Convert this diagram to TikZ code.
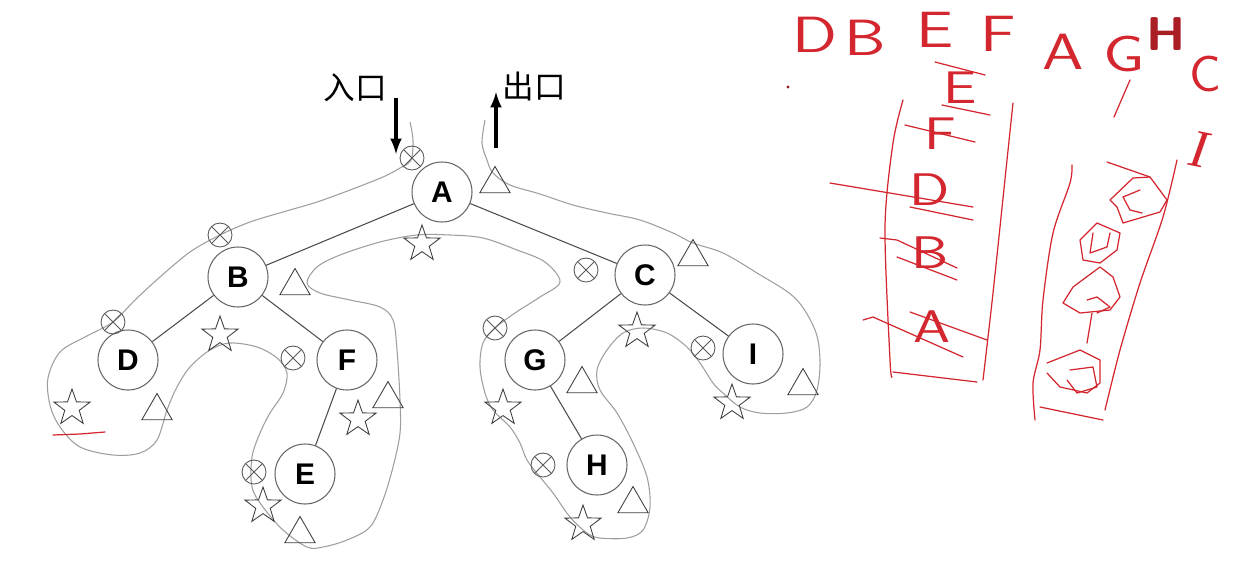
\documentclass[tikz,border=0pt]{standalone}
\usepackage{fontspec}
\setmainfont{Liberation Sans}
\newfontfamily\cjk{Noto Sans CJK SC}
\newfontfamily\serifhand{Liberation Serif}
\usetikzlibrary{arrows,shapes.geometric}
\definecolor{pen}{RGB}{212,38,46}

\begin{document}
\begin{tikzpicture}[x=0.02cm,y=-0.02cm]
	\tikzstyle{vertex}=[circle,draw=black!60,line width=0.6pt,minimum size=1.2cm,inner sep=1pt,font=\fontsize{17}{17}\selectfont\bfseries]
	\tikzstyle{pre}=[circle,draw=black!65,line width=0.5pt,minimum size=0.48cm,inner sep=0pt,path picture={\draw[black!65,line width=0.5pt] (path picture bounding box.north west) -- (path picture bounding box.south east) (path picture bounding box.north east) -- (path picture bounding box.south west);}]
	\tikzstyle{mid}=[star,star points=5,star point ratio=2.5,draw=black!75,line width=0.5pt,minimum size=0.76cm,inner sep=0pt]
	\tikzstyle{post}=[regular polygon,regular polygon sides=3,draw=black!75,line width=0.5pt,minimum size=0.7cm,inner sep=0pt]
	\tikzstyle{edge}=[draw=black!70,line width=0.6pt]
	\tikzstyle{contour}=[draw=black!38,line width=0.6pt]
	\tikzstyle{hand}=[text=pen,font=\sffamily\fontsize{29}{29}\selectfont,inner sep=0pt,xscale=1.3]
	\tikzstyle{stack}=[text=pen,font=\sffamily\fontsize{26}{26}\selectfont,inner sep=0pt,xscale=1.3]
	\tikzstyle{ink}=[pen,line width=0.7pt,line cap=round,line join=round]
	\useasboundingbox (0,0) rectangle (1234,572);
	\fill[white] (0,0) rectangle (1234,572);
	\draw[contour] plot[smooth,tension=0.55] coordinates {(410,122) (413,140) (411,160) (400,168) (383,177) (350,190) (317,202) (283,212) (250,222) (220,235) (190,252) (160,277) (135,300) (113,322) (85,337) (60,352) (48,378) (50,405) (60,427) (80,447) (113,455) (140,453) (157,440) (167,410) (177,387) (190,367) (210,350) (230,343) (257,347) (277,358) (287,373) (283,393) (270,413) (260,433) (252,457) (252,487) (263,507) (283,530) (307,547) (323,547) (347,540) (370,527) (383,500) (393,467) (400,433) (400,400) (397,350) (393,320) (380,307) (350,300) (320,293) (307,283) (317,267) (340,255) (380,242) (417,235) (450,235) (483,238) (517,250) (545,262) (560,282) (540,297) (515,313) (495,328) (483,343) (480,367) (485,393) (493,410) (510,427) (520,443) (527,460) (540,477) (553,493) (570,517) (587,533) (600,538) (627,538) (643,530) (650,507) (647,477) (633,443) (617,413) (600,390) (597,370) (607,350) (623,333) (643,328) (667,333) (687,347) (700,363) (713,383) (723,393) (740,407) (760,413) (787,413) (807,407) (817,390) (820,360) (815,330) (795,298) (757,273) (723,253) (693,243) (673,233) (640,220) (607,213) (573,205) (540,194) (510,185) (493,173) (487,160) (482,143) (485,120)};
	\node[vertex] (1) at (442,192) {A};
	\node[vertex] (2) at (238,277) {B};
	\node[vertex] (3) at (645,275) {C};
	\node[vertex] (4) at (128,360) {D};
	\node[vertex] (5) at (347,360) {F};
	\node[vertex] (6) at (305,474) {E};
	\node[vertex] (7) at (535,360) {G};
	\node[vertex] (8) at (597,465) {H};
	\node[vertex] (9) at (753,354) {I};
	\draw[edge] (1) -- (2);
	\draw[edge] (1) -- (3);
	\draw[edge] (2) -- (4);
	\draw[edge] (2) -- (5);
	\draw[edge] (5) -- (6);
	\draw[edge] (3) -- (7);
	\draw[edge] (3) -- (9);
	\draw[edge] (7) -- (8);
	\node[pre] (p1) at (412,158) {};
	\node[pre] (p2) at (220,235) {};
	\node[pre] (p3) at (113,322) {};
	\node[pre] (p4) at (293,358) {};
	\node[pre] (p5) at (254,472) {};
	\node[pre] (p6) at (586,270) {};
	\node[pre] (p7) at (495,328) {};
	\node[pre] (p8) at (543,465) {};
	\node[pre] (p9) at (703,348) {};
	\node[mid] (s1) at (422,244) {};
	\node[mid] (s2) at (220,335) {};
	\node[mid] (s3) at (72,408) {};
	\node[mid] (s4) at (358,419) {};
	\node[mid] (s5) at (263,506) {};
	\node[mid] (s6) at (637,331) {};
	\node[mid] (s7) at (503,408) {};
	\node[mid] (s8) at (583,524) {};
	\node[mid] (s9) at (732,403) {};
	\node[post] (t1) at (495,184) {};
	\node[post] (t2) at (295,286) {};
	\node[post] (t3) at (157,411) {};
	\node[post] (t4) at (388,399) {};
	\node[post] (t5) at (300,534) {};
	\node[post] (t6) at (693,257) {};
	\node[post] (t7) at (582,384) {};
	\node[post] (t8) at (633,504) {};
	\node[post] (t9) at (803,386) {};
	\coordinate (in1) at (396,98);
	\coordinate (in2) at (396,154);
	\coordinate (out1) at (496,148);
	\coordinate (out2) at (496,92);
	\draw[-latex,line width=2pt] (in1) -- (in2);
	\draw[-latex,line width=2pt] (out1) -- (out2);
	\node[font=\cjk\fontsize{18}{18}\selectfont] (entry) at (355,88) {入口};
	\node[font=\cjk\fontsize{18}{18}\selectfont] (exit) at (534,86) {出口};
	\draw[ink] (53,435) -- (80,434) -- (105,432);
	\fill[pen!70!black] (788,87) circle (1.6);
	\node[hand] (hw1) at (815,35) {D};
	\node[hand] (hw2) at (865,38) {B};
	\node[hand] (hw3) at (935,30) {E};
	\node[hand] (hw4) at (998,34) {F};
	\node[hand] (hw5) at (1063,52) {A};
	\node[hand] (hw6) at (1124,54) {G};
	\node[hand,text=pen!80!black,font=\sffamily\bfseries\fontsize{27}{27}\selectfont,xscale=0.8] (hw7) at (1166,34) {H};
	\node[hand,xscale=0.8] (hw8) at (1205,74) {C};
	\node[hand,font=\serifhand\fontsize{30}{30}\selectfont,rotate=-15,xscale=0.8] (hw9) at (1200,150) {I};
	\draw[ink] (1130,80) -- (1114,117);
	\draw[ink] plot[smooth,tension=0.5] coordinates {(903,100) (893,143) (885,227) (890,360) (892,377)};
	\draw[ink] plot[smooth,tension=0.5] coordinates {(1013,103) (1007,160) (993,293) (983,380)};
	\draw[ink] (893,372) -- (977,382);
	\node[stack] (st1) at (960,88) {E};
	\node[stack] (st2) at (940,134) {F};
	\node[stack] (st3) at (930,190) {D};
	\node[stack] (st4) at (930,253) {B};
	\node[stack] (st5) at (932,327) {A};
	\draw[ink] (935,62) -- (985,75);
	\draw[ink] (942,105) -- (990,115);
	\draw[ink] (905,125) -- (975,142);
	\draw[ink] (830,183) -- (973,207);
	\draw[ink] (910,207) -- (973,220);
	\draw[ink] (880,238) -- (897,240) -- (957,268);
	\draw[ink] (897,257) -- (957,280);
	\draw[ink] (863,320) -- (873,317) -- (963,357);
	\draw[ink] (910,312) -- (987,340);
	\draw[ink] plot[smooth,tension=0.5] coordinates {(1072,165) (1070,183) (1053,233) (1043,300) (1040,350) (1033,383) (1035,420)};
	\draw[ink] plot[smooth,tension=0.5] coordinates {(1177,160) (1163,217) (1140,283) (1120,350) (1105,410)};
	\draw[ink] (1040,407) -- (1103,420);
	\draw[ink] (1107,162) -- (1150,177);
	\draw[ink] (1110,200) -- (1133,178) -- (1150,177) -- (1167,200) -- (1160,212) -- (1123,223) -- (1117,207) -- cycle;
	\draw[ink] (1140,190) -- (1123,197) -- (1130,210) -- (1142,213);
	\draw[ink] (1097,223) -- (1080,240) -- (1083,260) -- (1100,263) -- (1117,250) -- (1120,233) -- cycle;
	\draw[ink] (1093,233) -- (1090,253) -- (1107,247) -- (1110,233);
	\draw[ink] (1100,267) -- (1073,287) -- (1063,303) -- (1080,313) -- (1110,310) -- (1120,297) -- (1113,277) -- cycle;
	\draw[ink] (1087,300) -- (1097,297) -- (1110,307) -- (1097,313);
	\draw[ink] (1092,313) -- (1087,343);
	\draw[ink] (1047,363) -- (1080,350) -- (1100,360) -- (1100,383) -- (1087,393) -- (1060,387) -- (1047,373);
	\draw[ink] (1070,370) -- (1093,367) -- (1097,387) -- (1077,393) -- (1067,380);
\end{tikzpicture}
\end{document}
